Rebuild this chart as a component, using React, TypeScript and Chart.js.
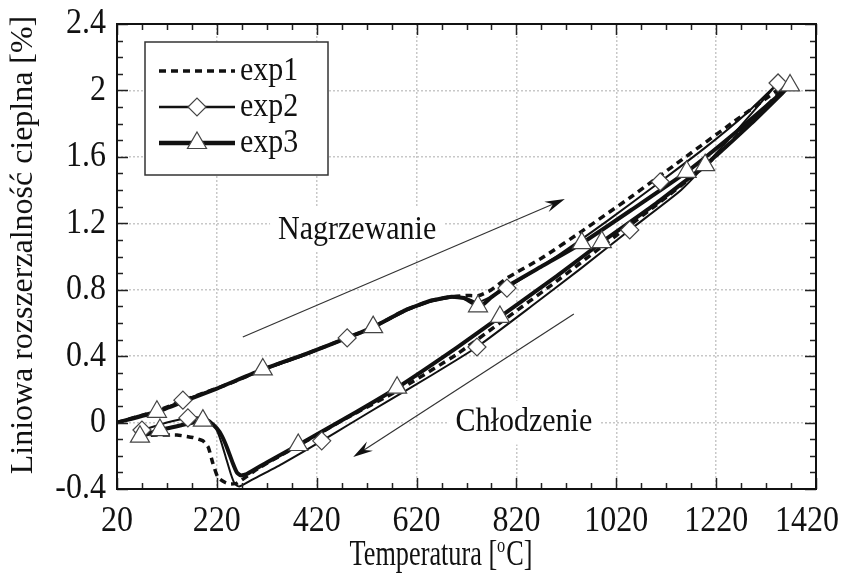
import React, { useEffect, useRef } from 'react';
import { Chart, registerables } from 'chart.js';

Chart.register(...registerables);

const SERIF = '"Liberation Serif", "Times New Roman", "DejaVu Serif", serif';
const TEXT_SY = 1.13; // glyphs in this figure are drawn slightly tall

// Axes
const xTicks = [20, 220, 420, 620, 820, 1020, 1220, 1420];
const xTickLabels = ['20', '220', '420', '620', '820', '1020', '1220', '1420'];
const yTicks = [-0.4, 0, 0.4, 0.8, 1.2, 1.6, 2, 2.4];
const yTickLabels = ['-0.4', '0', '0.4', '0.8', '1.2', '1.6', '2', '2.4'];
const xMinorStep = 50;
const yMinorStep = 0.1;
const xTitleParts = ['Temperatura [', 'o', 'C]'];
const yTitle = 'Liniowa rozszerzalność cieplna [%]';

// exp1: heating branch then cooling branch (temperature in °C, expansion in %)
const exp1HeatT = [20, 60, 100, 150, 200, 250, 312, 400, 481, 533, 600, 650, 690, 720, 745, 770, 801, 873, 950, 1050, 1141, 1250, 1370];
const exp1HeatY = [0, 0.035, 0.07, 0.13, 0.185, 0.24, 0.32, 0.415, 0.51, 0.575, 0.68, 0.735, 0.757, 0.765, 0.765, 0.8, 0.87, 0.995, 1.15, 1.36, 1.56, 1.8, 2.06];
const exp1CoolT = [1370, 1300, 1200, 1100, 991, 900, 787, 700, 581, 481, 400, 306, 260, 245, 236, 222, 212, 203, 192, 172, 140, 100, 60];
const exp1CoolY = [2.06, 1.84, 1.55, 1.31, 1.06, 0.85, 0.6, 0.41, 0.19, 0.03, -0.11, -0.27, -0.365, -0.37, -0.36, -0.33, -0.245, -0.15, -0.11, -0.09, -0.075, -0.075, -0.08];

// exp2
const exp2HeatT = [20, 100, 152, 220, 312, 400, 481, 533, 600, 650, 690, 715, 740, 760, 801, 900, 1000, 1108, 1200, 1280, 1344];
const exp2HeatY = [0, 0.065, 0.135, 0.205, 0.315, 0.41, 0.51, 0.57, 0.675, 0.73, 0.752, 0.755, 0.725, 0.745, 0.81, 1.0, 1.21, 1.45, 1.66, 1.86, 2.045];
const exp2CoolT = [1344, 1250, 1150, 1047, 950, 850, 741, 650, 560, 487, 430, 350, 290, 265, 256, 248, 238, 228, 218, 205, 185, 162, 120, 70, 55];
const exp2CoolY = [2.045, 1.72, 1.4, 1.16, 0.93, 0.7, 0.455, 0.285, 0.125, -0.007, -0.11, -0.25, -0.345, -0.385, -0.37, -0.31, -0.21, -0.11, -0.035, 0.015, 0.03, 0.028, 0.0, -0.045, -0.055];
const exp2MarkT = [152, 481, 801, 1108, 1344, 1047, 741, 430, 162, 70];
const exp2MarkY = [0.135, 0.51, 0.81, 1.45, 2.045, 1.16, 0.455, -0.11, 0.028, -0.045];

// exp3
const exp3HeatT = [20, 100, 160, 220, 312, 400, 481, 533, 600, 650, 690, 715, 735, 743, 755, 770, 801, 870, 951, 1050, 1161, 1260, 1368];
const exp3HeatY = [0, 0.065, 0.135, 0.205, 0.32, 0.415, 0.51, 0.575, 0.68, 0.735, 0.757, 0.75, 0.715, 0.7, 0.715, 0.755, 0.82, 0.94, 1.08, 1.28, 1.51, 1.75, 2.03];
const exp3CoolT = [1368, 1290, 1198, 1100, 991, 900, 787, 700, 581, 480, 383, 320, 280, 268, 260, 252, 240, 230, 220, 207, 192, 150, 106, 66, 55];
const exp3CoolY = [2.03, 1.8, 1.55, 1.32, 1.087, 0.88, 0.636, 0.45, 0.21, 0.03, -0.135, -0.24, -0.31, -0.318, -0.3, -0.245, -0.148, -0.08, -0.035, 0.0, 0.012, -0.015, -0.045, -0.085, -0.095];
const exp3MarkT = [100, 312, 533, 743, 951, 1161, 1368, 1198, 991, 787, 581, 383, 192, 106, 66];
const exp3MarkY = [0.065, 0.32, 0.575, 0.7, 1.08, 1.51, 2.03, 1.55, 1.087, 0.636, 0.21, -0.135, 0.012, -0.045, -0.085];

// Labels and arrows inside the plot (data coordinates)
const heatingLabel = { text: 'Nagrzewanie', x: 501, y: 1.16 };
const coolingLabel = { text: 'Chłodzenie', x: 835, y: 0.0 };
const heatingArrow = { x0: 272, y0: 0.515, x1: 917, y1: 1.346 };
const coolingArrow = { x0: 935, y0: 0.654, x1: 493, y1: -0.207 };

const legendItems = [
  { label: 'exp1', dash: [7, 5], width: 3.5, marker: '' },
  { label: 'exp2', dash: [], width: 2.5, marker: 'diamond' },
  { label: 'exp3', dash: [], width: 4.5, marker: 'triangle' },
];

const pts = (t: number[], v: number[]) => t.map((x, i) => ({ x, y: v[i] }));

function text(
  ctx: CanvasRenderingContext2D,
  s: string,
  x: number,
  y: number,
  size: number,
  align: CanvasTextAlign,
  baseline: CanvasTextBaseline,
  sx = 1,
  sy = TEXT_SY
) {
  ctx.save();
  ctx.translate(x, y);
  ctx.scale(sx, sy);
  ctx.font = `${size}px ${SERIF}`;
  ctx.textAlign = align;
  ctx.textBaseline = baseline;
  ctx.fillStyle = '#111';
  ctx.fillText(s, 0, 0);
  ctx.restore();
}

function drawMarker(ctx: CanvasRenderingContext2D, kind: string, x: number, y: number) {
  ctx.save();
  ctx.fillStyle = '#fff';
  ctx.strokeStyle = '#444';
  ctx.lineWidth = 1.2;
  ctx.setLineDash([]);
  ctx.beginPath();
  if (kind === 'diamond') {
    const r = 9;
    ctx.moveTo(x - r, y);
    ctx.lineTo(x, y - r);
    ctx.lineTo(x + r, y);
    ctx.lineTo(x, y + r);
  } else {
    const r = 11;
    ctx.moveTo(x, y - r);
    ctx.lineTo(x + r * 0.866, y + r * 0.5);
    ctx.lineTo(x - r * 0.866, y + r * 0.5);
  }
  ctx.closePath();
  ctx.fill();
  ctx.stroke();
  ctx.restore();
}

function drawArrow(ctx: CanvasRenderingContext2D, x0: number, y0: number, x1: number, y1: number) {
  const ang = Math.atan2(y1 - y0, x1 - x0);
  const c = Math.cos(ang);
  const s = Math.sin(ang);
  const len = 20;
  const half = 5.5;
  ctx.beginPath();
  ctx.moveTo(x0, y0);
  ctx.lineTo(x1 - c * len * 0.6, y1 - s * len * 0.6);
  ctx.stroke();
  ctx.beginPath();
  ctx.moveTo(x1, y1);
  ctx.lineTo(x1 - c * len - s * half, y1 - s * len + c * half);
  ctx.lineTo(x1 - c * len * 0.65, y1 - s * len * 0.65);
  ctx.lineTo(x1 - c * len + s * half, y1 - s * len - c * half);
  ctx.closePath();
  ctx.fill();
}

const decorPlugin = {
  id: 'decor',
  beforeDatasetsDraw(chart: any) {
    const { ctx, scales } = chart;
    const xs = scales.x;
    const ys = scales.y;
    ctx.save();
    ctx.font = `30px ${SERIF}`;
    for (const lab of [heatingLabel, coolingLabel]) {
      const px = xs.getPixelForValue(lab.x);
      const py = ys.getPixelForValue(lab.y);
      const w = ctx.measureText(lab.text).width;
      ctx.fillStyle = '#fff';
      ctx.fillRect(px - w / 2 - 8, py - 22, w + 16, 44);
      text(ctx, lab.text, px, py, 30, 'center', 'middle');
    }
    ctx.strokeStyle = '#333';
    ctx.fillStyle = '#111';
    ctx.lineWidth = 1.2;
    for (const ar of [heatingArrow, coolingArrow]) {
      drawArrow(
        ctx,
        xs.getPixelForValue(ar.x0),
        ys.getPixelForValue(ar.y0),
        xs.getPixelForValue(ar.x1),
        ys.getPixelForValue(ar.y1)
      );
    }
    ctx.restore();
  },
  afterDraw(chart: any) {
    const { ctx, chartArea: a, scales } = chart;
    const xs = scales.x;
    const ys = scales.y;
    ctx.save();

    // inward tick marks on all four sides
    ctx.strokeStyle = '#222';
    ctx.lineWidth = 1.5;
    ctx.beginPath();
    const xLast = xTicks[xTicks.length - 1];
    for (let k = 0; ; k++) {
      const v = xTicks[0] + k * xMinorStep;
      if (v > xLast + 1e-6) break;
      const major = xTicks.some((t) => Math.abs(t - v) < 1e-6);
      const len = major ? 11 : 6;
      const px = Math.round(xs.getPixelForValue(v)) + 0.5;
      ctx.moveTo(px, a.bottom);
      ctx.lineTo(px, a.bottom - len);
      ctx.moveTo(px, a.top);
      ctx.lineTo(px, a.top + len);
    }
    const yLast = yTicks[yTicks.length - 1];
    for (let k = 0; ; k++) {
      const v = yTicks[0] + k * yMinorStep;
      if (v > yLast + 1e-6) break;
      const major = yTicks.some((t) => Math.abs(t - v) < 1e-6);
      const len = major ? 11 : 6;
      const py = Math.round(ys.getPixelForValue(v)) + 0.5;
      ctx.moveTo(a.left, py);
      ctx.lineTo(a.left + len, py);
      ctx.moveTo(a.right, py);
      ctx.lineTo(a.right - len, py);
    }
    ctx.stroke();

    // plot frame
    ctx.strokeStyle = '#111';
    ctx.lineWidth = 2;
    ctx.strokeRect(a.left, a.top, a.right - a.left, a.bottom - a.top);

    // tick labels
    xTicks.forEach((v, i) => {
      const last = i === xTicks.length - 1;
      const px = last ? chart.width - 6 : xs.getPixelForValue(v);
      text(ctx, xTickLabels[i], px, a.bottom + 42, 32, last ? 'right' : 'center', 'alphabetic');
    });
    yTicks.forEach((v, i) => {
      text(ctx, yTickLabels[i], a.left - 11, ys.getPixelForValue(v), 32, 'right', 'middle');
    });

    // x axis title (condensed, superscript "o" before C)
    ctx.save();
    ctx.translate(441, chart.height - 10);
    ctx.scale(0.82, 1.1);
    ctx.fillStyle = '#111';
    ctx.textAlign = 'left';
    ctx.textBaseline = 'alphabetic';
    ctx.font = `32px ${SERIF}`;
    const w0 = ctx.measureText(xTitleParts[0]).width;
    const w2 = ctx.measureText(xTitleParts[2]).width;
    ctx.font = `20px ${SERIF}`;
    const w1 = ctx.measureText(xTitleParts[1]).width + 1;
    let cx = -(w0 + w1 + w2) / 2;
    ctx.font = `32px ${SERIF}`;
    ctx.fillText(xTitleParts[0], cx, 0);
    cx += w0;
    ctx.font = `20px ${SERIF}`;
    ctx.fillText(xTitleParts[1], cx, -12);
    cx += w1;
    ctx.font = `32px ${SERIF}`;
    ctx.fillText(xTitleParts[2], cx, 0);
    ctx.restore();

    // y axis title
    ctx.save();
    ctx.translate(32, 245);
    ctx.rotate(-Math.PI / 2);
    ctx.scale(1.03, 1);
    ctx.fillStyle = '#111';
    ctx.font = `31px ${SERIF}`;
    ctx.textAlign = 'center';
    ctx.textBaseline = 'alphabetic';
    ctx.fillText(yTitle, 0, 0);
    ctx.restore();

    // legend
    const bx = a.left + 28;
    const by = a.top + 18;
    const bw = 183;
    const bh = 133;
    ctx.fillStyle = '#fff';
    ctx.fillRect(bx, by, bw, bh);
    ctx.strokeStyle = '#333';
    ctx.lineWidth = 1.5;
    ctx.strokeRect(bx, by, bw, bh);
    legendItems.forEach((it, i) => {
      const ly = by + 29 + i * 36;
      ctx.save();
      ctx.strokeStyle = '#111';
      ctx.lineWidth = it.width;
      ctx.setLineDash(it.dash);
      ctx.beginPath();
      ctx.moveTo(bx + 14, ly);
      ctx.lineTo(bx + 90, ly);
      ctx.stroke();
      ctx.restore();
      if (it.marker) drawMarker(ctx, it.marker, bx + 52, ly);
      text(ctx, it.label, bx + 95, ly, 30, 'left', 'middle');
    });

    ctx.restore();
  },
};

export default function App() {
  const ref = useRef<HTMLCanvasElement | null>(null);

  useEffect(() => {
    if (!ref.current) return;
    Chart.defaults.font.family = SERIF;
    Chart.defaults.color = '#111';

    const lineBase = { pointRadius: 0, pointHoverRadius: 0, fill: false, tension: 0.15, borderColor: '#111' };
    const markerBase = {
      showLine: false,
      pointBackgroundColor: '#fff',
      pointBorderColor: '#444',
      pointBorderWidth: 1.2,
      order: 0,
    };

    const chart = new Chart(ref.current, {
      type: 'line',
      data: {
        datasets: [
          { ...markerBase, label: 'exp3 markers', data: pts(exp3MarkT, exp3MarkY), pointStyle: 'triangle', pointRadius: 11 },
          { ...markerBase, label: 'exp2 markers', data: pts(exp2MarkT, exp2MarkY), pointStyle: 'rectRot', pointRadius: 9 },
          { ...lineBase, label: 'exp1', data: [...pts(exp1HeatT, exp1HeatY), ...pts(exp1CoolT, exp1CoolY)], borderWidth: 3.5, borderDash: [7, 5], order: 1 },
          { ...lineBase, label: 'exp2', data: [...pts(exp2HeatT, exp2HeatY), ...pts(exp2CoolT, exp2CoolY)], borderWidth: 2, order: 2 },
          { ...lineBase, label: 'exp3', data: [...pts(exp3HeatT, exp3HeatY), ...pts(exp3CoolT, exp3CoolY)], borderWidth: 4, order: 3 },
        ],
      } as any,
      options: {
        responsive: false,
        animation: false,
        events: [],
        layout: { padding: { left: 0, top: 24, right: 29, bottom: 0 } },
        plugins: { legend: { display: false }, tooltip: { enabled: false } },
        scales: {
          x: {
            type: 'linear',
            min: xTicks[0],
            max: xTicks[xTicks.length - 1],
            afterBuildTicks: (s: any) => { s.ticks = xTicks.map((value) => ({ value })); },
            afterFit: (s: any) => { s.height = 86; },
            grid: { color: '#c8c8c8', lineWidth: 1.5, drawTicks: false },
            border: { display: false, dash: [2, 2] },
            ticks: { display: false },
          },
          y: {
            type: 'linear',
            min: yTicks[0],
            max: yTicks[yTicks.length - 1],
            afterBuildTicks: (s: any) => { s.ticks = yTicks.map((value) => ({ value })); },
            afterFit: (s: any) => { s.width = 117; },
            grid: { color: '#c8c8c8', lineWidth: 1.5, drawTicks: false },
            border: { display: false, dash: [2, 2] },
            ticks: { display: false },
          },
        },
      } as any,
      plugins: [decorPlugin],
    });

    return () => chart.destroy();
  }, []);

  return (
    <div style={{ position: 'fixed', left: 0, top: 0, width: 845, height: 575, background: '#fff' }}>
      <canvas ref={ref} width={845} height={575} style={{ width: 845, height: 575, display: 'block' }} />
    </div>
  );
}
